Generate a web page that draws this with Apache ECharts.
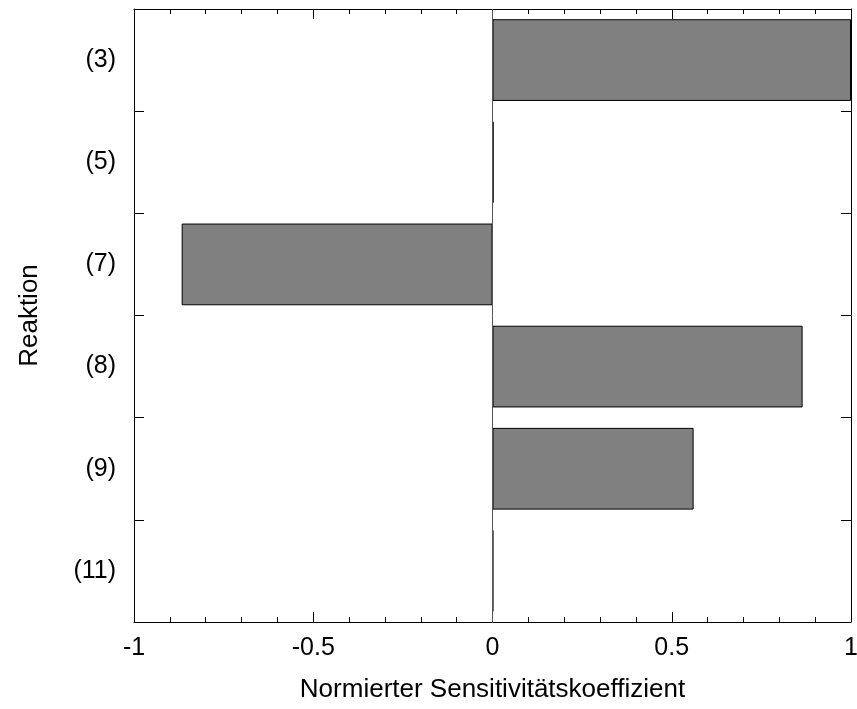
<!DOCTYPE html>
<html><head><meta charset="utf-8">
<script src="https://cdn.jsdelivr.net/npm/echarts@6/dist/echarts.min.js"></script>
<style>html,body{margin:0;padding:0;background:#fff}#c{width:857px;height:709px}</style>
</head><body><div id="c"></div>
<script>
const categories = ['(3)', '(5)', '(7)', '(8)', '(9)', '(11)'];
const values = [1.0, 0.003, -0.867, 0.865, 0.561, 0.002];
const xTicks = [-1, -0.5, 0, 0.5, 1];
const xTitle = 'Normierter Sensitivitätskoeffizient';
const yTitle = 'Reaktion';

const font = 'Liberation Sans, Arial, sans-serif';
const chart = echarts.init(document.getElementById('c'));
const xCommon = {
  type: 'value', min: -1, max: 1, interval: 0.5,
  axisLine: { show: true, onZero: false, lineStyle: { color: '#000', width: 1 } },
  axisTick: { show: true, inside: true, length: 10, lineStyle: { color: '#000' } },
  minorTick: { show: true, splitNumber: 5, length: 5, lineStyle: { color: '#000' } },
  splitLine: { show: false }, minorSplitLine: { show: false }
};
const yCommon = {
  type: 'category', data: categories, inverse: true,
  axisLine: { show: true, onZero: false, lineStyle: { color: '#000', width: 1 } },
  axisTick: { show: true, inside: true, length: 10, alignWithLabel: false, lineStyle: { color: '#000' } },
  splitLine: { show: false }
};
chart.setOption({
  animation: false,
  backgroundColor: '#fff',
  grid: { left: 134, right: 6, top: 9, bottom: 87, outerBoundsMode: 'none', containLabel: false },
  xAxis: [
    Object.assign({}, xCommon, {
      position: 'bottom',
      name: xTitle, nameLocation: 'middle', nameGap: 55,
      nameTextStyle: { fontFamily: font, fontSize: 26, color: '#000' },
      axisLabel: { show: true, margin: 14, fontFamily: font, fontSize: 25, color: '#000',
        formatter: v => xTicks.includes(v) ? String(v) : '' }
    }),
    Object.assign({}, xCommon, { position: 'top', axisLabel: { show: false } })
  ],
  yAxis: [
    Object.assign({}, yCommon, {
      position: 'left',
      name: yTitle, nameLocation: 'middle', nameGap: 91, nameRotate: 90,
      nameTextStyle: { fontFamily: font, fontSize: 26, color: '#000' },
      axisLabel: { show: true, margin: 18, fontFamily: font, fontSize: 25, color: '#000' }
    }),
    Object.assign({}, yCommon, { position: 'right', axisLabel: { show: false } })
  ],
  series: [{
    type: 'bar', data: values, xAxisIndex: 0, yAxisIndex: 0,
    barCategoryGap: '20%',
    itemStyle: { color: '#808080', borderColor: '#000', borderWidth: 1 },
    markLine: {
      silent: true, symbol: 'none', label: { show: false },
      lineStyle: { color: '#555', width: 1, type: 'solid' },
      data: [{ xAxis: 0 }]
    }
  }]
});
</script></body></html>
